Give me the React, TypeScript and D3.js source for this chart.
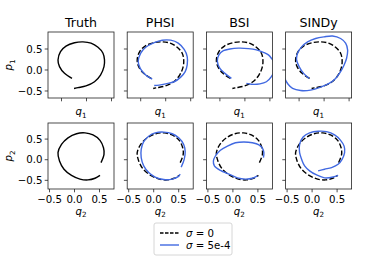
import React from 'react';
import * as d3 from 'd3';

// column titles and axis ticks
const methods = ['Truth', 'PHSI', 'BSI', 'SINDy'];
const yTicks = [-0.5, 0, 0.5];
const xTicks = [-0.5, 0, 0.5];

// trajectories as [q, p] pairs
const truthRow1: [number, number][] = [
  [-0.29, -0.2], [-0.44, -0.08], [-0.54, 0.08], [-0.57, 0.24], [-0.52, 0.44], [-0.41, 0.57],
  [-0.24, 0.65], [-0.07, 0.67], [0.09, 0.64], [0.23, 0.54], [0.33, 0.4], [0.36, 0.24],
  [0.35, 0.08], [0.28, -0.12], [0.16, -0.28], [-0.01, -0.38], [-0.17, -0.42], [-0.25, -0.44],
];
const phsiRow1: [number, number][] = [
  [-0.27, -0.22], [-0.4, -0.12], [-0.51, 0.04], [-0.55, 0.2], [-0.5, 0.4], [-0.4, 0.54],
  [-0.23, 0.65], [-0.07, 0.71], [0.1, 0.71], [0.25, 0.64], [0.37, 0.49], [0.43, 0.32],
  [0.43, 0.12], [0.39, -0.04], [0.3, -0.17], [0.17, -0.28], [0.0, -0.33], [-0.13, -0.36], [-0.23, -0.37],
];
const bsiRow1: [number, number][] = [
  [-0.27, -0.2], [-0.4, -0.08], [-0.5, 0.04], [-0.55, 0.2], [-0.52, 0.36], [-0.43, 0.46],
  [-0.3, 0.5], [-0.13, 0.52], [0.07, 0.51], [0.23, 0.48], [0.37, 0.42], [0.47, 0.36],
  [0.53, 0.28], [0.59, 0.16], [0.59, 0.0], [0.53, -0.16], [0.43, -0.28], [0.3, -0.33],
  [0.13, -0.34], [0.03, -0.32],
];
const sindyRow1: [number, number][] = [
  [-0.3, -0.2], [-0.41, -0.08], [-0.5, 0.08], [-0.55, 0.24], [-0.53, 0.4], [-0.45, 0.55],
  [-0.33, 0.67], [-0.17, 0.75], [0.0, 0.79], [0.17, 0.81], [0.33, 0.75], [0.43, 0.64],
  [0.47, 0.48], [0.45, 0.28], [0.4, 0.12], [0.33, -0.04], [0.23, -0.2], [0.1, -0.32],
  [-0.07, -0.41], [-0.27, -0.48], [-0.47, -0.49], [-0.63, -0.44], [-0.72, -0.34], [-0.79, -0.2],
];
const truthRow2: [number, number][] = [
  [0.53, -0.07], [0.59, 0.13], [0.58, 0.29], [0.51, 0.47], [0.37, 0.6], [0.21, 0.65],
  [0.04, 0.63], [-0.13, 0.53], [-0.26, 0.37], [-0.33, 0.17], [-0.3, -0.03], [-0.21, -0.23],
  [-0.06, -0.38], [0.11, -0.47], [0.27, -0.49], [0.41, -0.45], [0.51, -0.38],
];
const phsiRow2: [number, number][] = [
  [0.55, -0.18], [0.61, 0.01], [0.63, 0.19], [0.6, 0.37], [0.5, 0.53], [0.37, 0.63],
  [0.2, 0.67], [0.03, 0.65], [-0.1, 0.57], [-0.2, 0.44], [-0.25, 0.25], [-0.25, 0.05],
  [-0.2, -0.15], [-0.1, -0.31], [0.03, -0.42], [0.2, -0.48], [0.37, -0.47], [0.49, -0.41], [0.53, -0.35],
];
const bsiRow2: [number, number][] = [
  [0.61, 0.05], [0.62, 0.17], [0.59, 0.28], [0.52, 0.36], [0.39, 0.41], [0.22, 0.43],
  [0.05, 0.41], [-0.11, 0.33], [-0.25, 0.23], [-0.35, 0.09], [-0.39, -0.03], [-0.37, -0.15],
  [-0.25, -0.26], [-0.08, -0.35], [0.09, -0.44], [0.25, -0.47], [0.39, -0.45], [0.49, -0.39],
];
const sindyRow2: [number, number][] = [
  [0.12, -0.27], [0.25, -0.23], [0.39, -0.19], [0.52, -0.11], [0.6, 0.01], [0.65, 0.17],
  [0.64, 0.33], [0.57, 0.47], [0.45, 0.6], [0.29, 0.68], [0.12, 0.69], [-0.05, 0.65],
  [-0.18, 0.55], [-0.25, 0.37], [-0.25, 0.17], [-0.21, 0.01], [-0.15, -0.15], [-0.05, -0.27],
  [0.09, -0.37], [0.25, -0.44], [0.42, -0.42], [0.52, -0.38],
];

const rows = [
  { truth: truthRow1, preds: [null, phsiRow1, bsiRow1, sindyRow1], xDomain: [-0.77, 0.55], yDomain: [-0.667, 0.905], idx: 1, top: 32 },
  { truth: truthRow2, preds: [null, phsiRow2, bsiRow2, sindyRow2], xDomain: [-0.53, 0.79], yDomain: [-0.71, 0.89], idx: 2, top: 123 },
];

const BLUE = '#4169e1';
const FONT = 'DejaVu Sans, sans-serif';
const TICK_FS = 10.2;
const size = 66;
const left0 = 48;
const step = 79.2;

const Sub = ({ base, sub }: { base: string; sub: number }) => (
  <>
    <tspan fontStyle="italic">{base}</tspan>
    <tspan fontSize={7.2} dy={2.6}>{sub}</tspan>
  </>
);

const App: React.FC = () => {
  return (
    <svg width={391} height={270} style={{ position: 'absolute', left: 0, top: 0, background: '#fff' }} fontFamily={FONT}>
      {rows.map((row, r) => {
        const x = d3.scaleLinear().domain(row.xDomain).range([0, size]);
        const y = d3.scaleLinear().domain(row.yDomain).range([size, 0]);
        const line = d3.line<[number, number]>()
          .x(d => x(d[0]))
          .y(d => y(d[1]))
          .curve(d3.curveCatmullRom.alpha(0.5));
        return methods.map((m, c) => {
          const left = left0 + c * step;
          const clipId = `clip-${r}-${c}`;
          const pred = row.preds[c];
          return (
            <g key={`${r}-${c}`} transform={`translate(${left},${row.top})`}>
              <clipPath id={clipId}><rect width={size} height={size} /></clipPath>
              <g clipPath={`url(#${clipId})`}>
                <path d={line(row.truth) || ''} fill="none" stroke="#000" strokeWidth={1.4}
                  strokeDasharray={c === 0 ? undefined : '5.2,2.2'} />
                {pred && <path d={line(pred) || ''} fill="none" stroke={BLUE} strokeWidth={1.4} />}
              </g>
              <rect width={size} height={size} fill="none" stroke="#222" strokeWidth={0.8} />
              {yTicks.map(t => (
                <g key={`y${t}`}>
                  <line x1={-3.3} x2={0} y1={y(t)} y2={y(t)} stroke="#222" strokeWidth={0.8} />
                  {c === 0 && (
                    <text x={-5.5} y={y(t)} dy="0.35em" textAnchor="end" fontSize={TICK_FS}>
                      {d3.format('.1f')(t).replace('-', '\u2212')}
                    </text>
                  )}
                </g>
              ))}
              {xTicks.map(t => (
                <g key={`x${t}`}>
                  <line x1={x(t)} x2={x(t)} y1={size} y2={size + 3.3} stroke="#222" strokeWidth={0.8} />
                  {r === 1 && (
                    <text x={x(t)} y={size + 13.5} textAnchor="middle" fontSize={TICK_FS}>
                      {d3.format('.1f')(t).replace('-', '\u2212')}
                    </text>
                  )}
                </g>
              ))}
              <text x={size / 2} y={r === 0 ? size + 17 : size + 25.5} textAnchor="middle" fontSize={TICK_FS}>
                <Sub base="q" sub={row.idx} />
              </text>
              {r === 0 && (
                <text x={size / 2} y={-5} textAnchor="middle" fontSize={12.6}>{m}</text>
              )}
              {c === 0 && (
                <text transform={`translate(${-36},${size / 2}) rotate(-90)`} textAnchor="middle" fontSize={TICK_FS}>
                  <Sub base="p" sub={row.idx} />
                </text>
              )}
            </g>
          );
        });
      })}
      <g transform="translate(154,223)">
        <rect width={78} height={32} rx={2} fill="#fff" stroke="#ccc" strokeWidth={0.8} />
        <line x1={6} x2={25} y1={10} y2={10} stroke="#000" strokeWidth={1.4} strokeDasharray="3.5,1.5" />
        <text x={32} y={13.5} fontSize={TICK_FS}><tspan fontStyle="italic">σ</tspan> = 0</text>
        <line x1={6} x2={25} y1={22} y2={22} stroke={BLUE} strokeWidth={1.4} />
        <text x={32} y={25.5} fontSize={TICK_FS}><tspan fontStyle="italic">σ</tspan> = 5e-4</text>
      </g>
    </svg>
  );
};

export default App;
